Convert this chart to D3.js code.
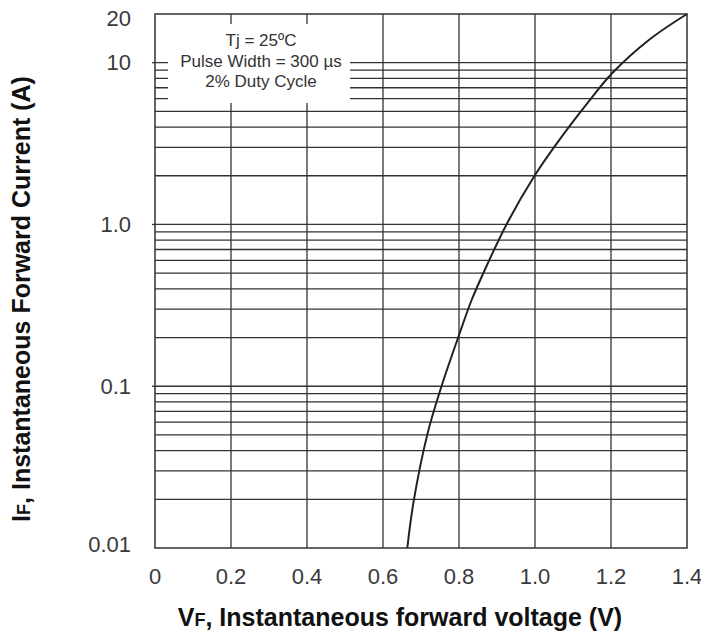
<!DOCTYPE html>
<html><head><meta charset="utf-8">
<script src="https://cdn.jsdelivr.net/npm/d3@7"></script>
<style>body{margin:0;background:#fff}svg{display:block}</style>
</head><body>
<svg id="c" width="701" height="635"></svg>
<script>
// Data
const voltage = [0.664, 0.68, 0.7175, 0.754, 0.80, 0.833, 0.864, 0.925, 1.0, 1.057, 1.14, 1.203, 1.303, 1.4];
const current = [0.01, 0.019, 0.0513, 0.1, 0.207, 0.34, 0.50, 1.0, 2.02, 3.16, 5.7, 8.6, 14.0, 20];
const xTicks = [0, 0.2, 0.4, 0.6, 0.8, 1.0, 1.2, 1.4];
const xTickLabels = ["0", "0.2", "0.4", "0.6", "0.8", "1.0", "1.2", "1.4"];
const yLabelValues = [20, 10, 1, 0.1, 0.01];
const yTickLabels = ["20", "10", "1.0", "0.1", "0.01"];
const noteLines = ["Tj = 25ºC", "Pulse Width = 300 µs", "2% Duty Cycle"];

const m = {l:155, r:687, t:14, b:548};
const svg = d3.select("#c");
const x = d3.scaleLinear().domain([0, 1.4]).range([m.l, m.r]);
const y = d3.scaleLog().domain([0.01, 20]).range([m.b, m.t]);
const grid = "#333";
const font = "Liberation Sans, Arial, sans-serif";

// horizontal gridlines
const hVals = y.ticks().filter(v => v > 0.01 * 1.0001 && v < 20 * 0.999);
svg.append("g").selectAll("line").data(hVals).join("line")
  .attr("x1", m.l).attr("x2", m.r)
  .attr("y1", d => y(d)).attr("y2", d => y(d))
  .attr("stroke", grid).attr("stroke-width", 1.3);
// vertical gridlines
svg.append("g").selectAll("line").data(xTicks.slice(1, -1)).join("line")
  .attr("y1", m.t).attr("y2", m.b)
  .attr("x1", d => x(d)).attr("x2", d => x(d))
  .attr("stroke", grid).attr("stroke-width", 1.3);

// annotation box (white, hides grid)
svg.append("rect").attr("x", 168).attr("y", 24).attr("width", 182).attr("height", 79).attr("fill", "#fff");
svg.append("g").selectAll("text").data(noteLines).join("text")
  .attr("x", 261).attr("y", (d, i) => 46 + i * 20.5)
  .attr("text-anchor", "middle")
  .attr("font-family", font)
  .attr("font-size", 17).attr("fill", "#333")
  .text(d => d);

// border
svg.append("rect").attr("x", m.l).attr("y", m.t).attr("width", m.r - m.l).attr("height", m.b - m.t)
  .attr("fill", "none").attr("stroke", grid).attr("stroke-width", 1.5);

// small major ticks on the left
svg.append("g").selectAll("line").data([10, 1, 0.1]).join("line")
  .attr("x1", m.l - 3).attr("x2", m.l).attr("y1", d => y(d)).attr("y2", d => y(d))
  .attr("stroke", grid).attr("stroke-width", 1.3);

// curve
const pts = voltage.map((v, i) => [x(v), y(current[i])]);
svg.append("path").attr("d", d3.line().curve(d3.curveCatmullRom.alpha(0.5))(pts))
  .attr("fill", "none").attr("stroke", "#222").attr("stroke-width", 2);

// y labels
svg.append("g").selectAll("text").data(yLabelValues).join("text")
  .attr("x", 131)
  .attr("y", d => Math.max(m.t + 4, Math.min(m.b - 4, y(d))))
  .attr("dy", "0.35em").attr("text-anchor", "end")
  .attr("font-family", font)
  .attr("font-size", 22).attr("fill", "#3a3a3a")
  .text((d, i) => yTickLabels[i]);

// x labels
svg.append("g").selectAll("text").data(xTicks).join("text")
  .attr("x", d => x(d)).attr("y", 584)
  .attr("text-anchor", "middle")
  .attr("font-family", font)
  .attr("font-size", 22).attr("fill", "#3a3a3a")
  .text((d, i) => xTickLabels[i]);

// axis titles
const xt = svg.append("text").attr("x", 400).attr("y", 626).attr("text-anchor", "middle")
  .attr("font-family", font).attr("font-weight", "bold")
  .attr("font-size", 25).attr("fill", "#111");
xt.append("tspan").text("V");
xt.append("tspan").attr("font-size", 18).text("F");
xt.append("tspan").text(", Instantaneous forward voltage (V)");

const yt = svg.append("text").attr("transform", "translate(30,299) rotate(-90)").attr("text-anchor", "middle")
  .attr("font-family", font).attr("font-weight", "bold")
  .attr("font-size", 25).attr("fill", "#111");
yt.append("tspan").text("I");
yt.append("tspan").attr("font-size", 18).text("F");
yt.append("tspan").text(", Instantaneous Forward Current (A)");
</script>
</body></html>
